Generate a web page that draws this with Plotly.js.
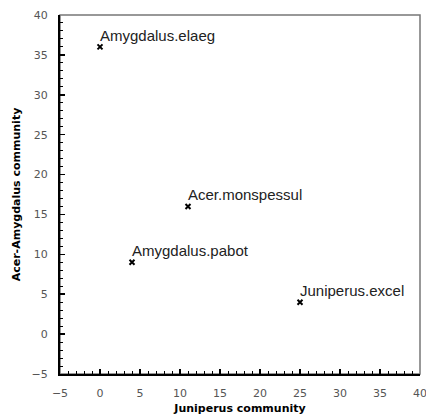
<!DOCTYPE html>
<html><head><meta charset="utf-8">
<script src="https://cdn.plot.ly/plotly-3.0.1.min.js"></script>
<style>body{margin:0;padding:0;background:#fff}#chart{width:426px;height:416px}</style>
</head><body><div id="chart"></div>
<script>
const species = ["Amygdalus.elaeg", "Acer.monspessul", "Amygdalus.pabot", "Juniperus.excel"];
const juniperus = [0, 11, 4, 25];
const acerAmygdalus = [36, 16, 9, 4];
const xTicks = [-5, 0, 5, 10, 15, 20, 25, 30, 35, 40];
const yTicks = [-5, 0, 5, 10, 15, 20, 25, 30, 35, 40];

const trace = {
  x: juniperus, y: acerAmygdalus,
  type: "scatter", mode: "markers",
  marker: {symbol: "x-thin-open", size: 5, color: "#000", line: {width: 2, color: "#000"}},
  cliponaxis: false, hoverinfo: "none"
};
const labelFont = {family: "Liberation Sans, Arial, sans-serif", size: 15, color: "#222"};
const annotations = species.map((s, i) => ({
  x: juniperus[i], y: acerAmygdalus[i], xref: "x", yref: "y", text: s,
  showarrow: false, xanchor: "left", yanchor: "bottom", xshift: -1, yshift: 2,
  font: labelFont, borderpad: 0
}));
const tickFont = {family: "DejaVu Sans, sans-serif", size: 11, color: "#555"};
const titleFont = {family: "DejaVu Sans, sans-serif", size: 11, color: "#000", weight: "bold"};
const axisCommon = {
  showgrid: false, zeroline: false, showline: true, linecolor: "#000", linewidth: 2,
  ticks: "inside", ticklen: 5, tickwidth: 1.5, tickcolor: "#000",
  tickfont: tickFont, ticklabeloverflow: "allow",
  minor: {dtick: 1, ticks: "inside", ticklen: 3, tickwidth: 1, tickcolor: "#000"}
};
const fmt = v => v < 0 ? "\u2212" + Math.abs(v) : String(v);
const layout = {
  width: 426, height: 416,
  margin: {l: 60, r: 6, t: 15, b: 42},
  paper_bgcolor: "#fff", plot_bgcolor: "#fff", showlegend: false,
  xaxis: Object.assign({}, axisCommon, {
    range: [-5, 40], tickvals: xTicks, ticktext: xTicks.map(fmt), ticklabelstandoff: 8,
    title: {text: "Juniperus community", font: titleFont, standoff: 5}
  }),
  yaxis: Object.assign({}, axisCommon, {
    range: [-5, 40], tickvals: yTicks, ticktext: yTicks.map(fmt), ticklabelstandoff: 8,
    title: {text: "Acer-Amygdalus community", font: titleFont, standoff: 9}
  }),
  annotations: annotations,
  shapes: [{type: "rect", xref: "paper", yref: "paper", x0: 0, x1: 1, y0: 0, y1: 1, line: {color: "#777", width: 1.5}, layer: "below"}]
};
Plotly.newPlot("chart", [trace], layout, {displayModeBar: false, staticPlot: true});
</script></body></html>
